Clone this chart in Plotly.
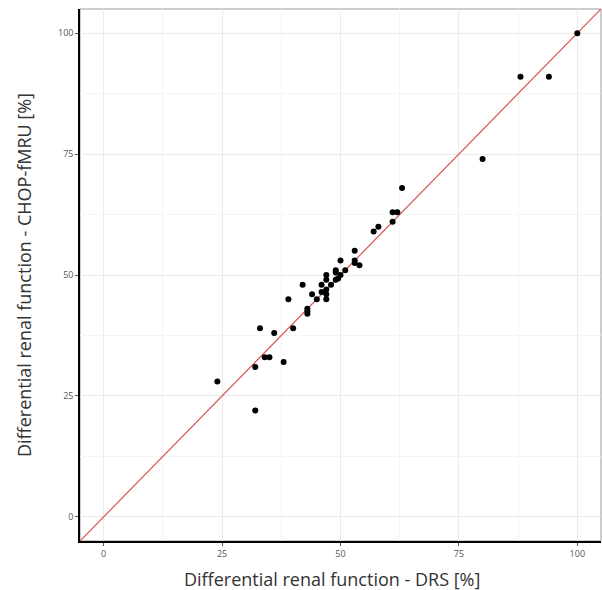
import plotly.graph_objects as go

drs = [24, 32, 32, 34, 35, 38, 33, 36, 40, 39, 42, 43, 43, 43, 44, 45, 46, 47, 47, 48, 47, 46,
       47, 47, 49, 49, 50, 50, 49.5, 49, 51, 53, 53, 53, 54, 57, 58, 61, 61, 62, 63, 80, 88, 94, 100]
fmru = [28, 22, 31, 33, 33, 32, 39, 38, 39, 45, 48, 43, 42.5, 42, 46, 45, 48, 50, 49, 48, 47, 46.5,
        46, 45, 51, 50.5, 53, 50, 49.3, 49, 51, 55, 53, 52.5, 52, 59, 60, 61, 63, 63, 68, 74, 91, 91, 100]
identity = [-5, 105]
ticks = [0, 25, 50, 75, 100]

fig = go.Figure()
fig.add_trace(go.Scatter(x=identity, y=identity, mode="lines",
                         line=dict(color="#d9534f", width=1.2), hoverinfo="skip"))
fig.add_trace(go.Scatter(x=drs, y=fmru, mode="markers",
                         marker=dict(color="black", size=6)))

axis_common = dict(
    range=[-5, 105], tickvals=ticks, ticks="outside", ticklen=3, tickcolor="#555",
    tickfont=dict(size=9, color="#555"), showgrid=True, gridcolor="#ebebeb", gridwidth=1,
    minor=dict(tickvals=[12.5, 37.5, 62.5, 87.5], showgrid=True, gridcolor="#f5f5f5", ticks=""),
    showline=True, linecolor="black", linewidth=1.5, zeroline=False,
)

fig.update_layout(
    width=602, height=590, margin=dict(l=80, r=1, t=9, b=49),
    paper_bgcolor="white", plot_bgcolor="white", showlegend=False,
    font=dict(family="Open Sans, Noto Sans, sans-serif", color="#333"),
    xaxis=dict(axis_common),
    yaxis=dict(axis_common, title=dict(text="Differential renal function - CHOP-fMRU [%]",
                                       font=dict(size=18, color="#333"), standoff=22)),
    shapes=[dict(type="rect", xref="paper", yref="paper", x0=0, y0=0, x1=1, y1=1,
                 line=dict(color="#999", width=1), layer="below")],
    annotations=[dict(text="Differential renal function - DRS [%]", xref="paper", yref="paper",
                      x=0.484, y=0, xanchor="center", yanchor="middle", yshift=-38,
                      showarrow=False, font=dict(size=18, color="#333"))],
)

fig.write_html("out.html")
